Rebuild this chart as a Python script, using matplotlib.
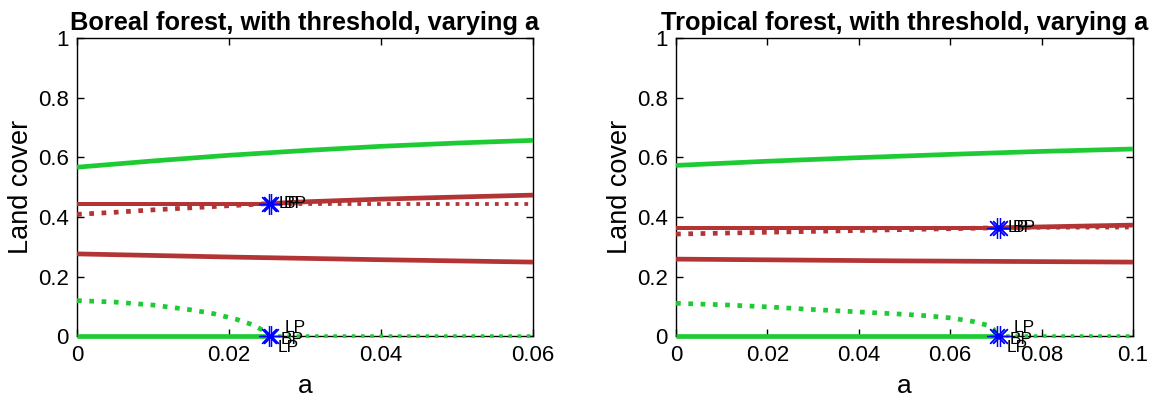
import matplotlib
matplotlib.use("Agg")
import matplotlib.pyplot as plt
import numpy as np

plt.rcParams['font.family'] = ['Liberation Sans', 'DejaVu Sans']

GREEN = '#1fcb35'
RED = '#b23434'
BLUE = '#0000ff'

# ---------------- Boreal data ----------------
bor_ab = 0.0252          # bifurcation parameter
bor_yb_hi = 0.445        # bifurcation level upper
bor_title = 'Boreal forest, with threshold, varying a'
bor_xlim = 0.06
bor_xticks = [0, 0.02, 0.04, 0.06]
bor_xticklabels = ['0', '0.02', '0.04', '0.06']

bor_green_hi_a = [0, 0.01, 0.02, 0.03, 0.04, 0.05, 0.06]
bor_green_hi_y = [0.567, 0.588, 0.607, 0.623, 0.637, 0.648, 0.657]

bor_redA_a = [0, 0.0252, 0.06]
bor_redA_y = [0.445, 0.445, 0.445]

bor_redB_a = [0, 0.005, 0.01, 0.015, 0.02, 0.0252, 0.03, 0.04, 0.05, 0.06]
bor_redB_y = [0.409, 0.416, 0.424, 0.431, 0.438, 0.445, 0.451, 0.460, 0.467, 0.4735]

bor_red_lo_a = [0, 0.02, 0.04, 0.06]
bor_red_lo_y = [0.2765, 0.266, 0.257, 0.249]

bor_green_mid_a = [0, 0.005, 0.01, 0.015, 0.018, 0.021, 0.023, 0.0245, 0.0252]
bor_green_mid_y = [0.120, 0.115, 0.105, 0.089, 0.076, 0.057, 0.040, 0.020, 0.0]

# ---------------- Tropical data ----------------
tro_ab = 0.0703
tro_yb_hi = 0.364
tro_title = 'Tropical forest, with threshold, varying a'
tro_xlim = 0.1
tro_xticks = [0, 0.02, 0.04, 0.06, 0.08, 0.1]
tro_xticklabels = ['0', '0.02', '0.04', '0.06', '0.08', '0.1']

tro_green_hi_a = [0, 0.02, 0.04, 0.06, 0.08, 0.1]
tro_green_hi_y = [0.573, 0.587, 0.599, 0.610, 0.620, 0.628]

tro_redA_a = [0, 0.0703, 0.1]
tro_redA_y = [0.364, 0.364, 0.365]

tro_redB_a = [0, 0.02, 0.04, 0.06, 0.0703, 0.08, 0.1]
tro_redB_y = [0.343, 0.349, 0.355, 0.361, 0.364, 0.367, 0.373]

tro_red_lo_a = [0, 0.05, 0.1]
tro_red_lo_y = [0.259, 0.253, 0.249]

tro_green_mid_a = [0, 0.01, 0.02, 0.03, 0.04, 0.05, 0.055, 0.06, 0.065, 0.068, 0.0695, 0.0703]
tro_green_mid_y = [0.111, 0.106, 0.099, 0.090, 0.082, 0.074, 0.069, 0.062, 0.050, 0.038, 0.024, 0.0]

ylabel = 'Land cover'
xlabel = 'a'
yticks = [0, 0.2, 0.4, 0.6, 0.8, 1]
yticklabels = ['0', '0.2', '0.4', '0.6', '0.8', '1']

fig = plt.figure(figsize=(11.62, 4.0), dpi=100)
ax1 = fig.add_axes([0.0663, 0.159, 0.3924, 0.746])
ax2 = fig.add_axes([0.5818, 0.159, 0.3932, 0.746])

LW = 3.4
DOT = (0, (1.0, 1.6))


def panel(ax, d):
    kw = dict(clip_on=False, zorder=3, solid_capstyle='butt', dash_capstyle='butt')
    ab = d['ab']
    xl = d['xlim']
    # upper green stable
    ax.plot(d['gh_a'], d['gh_y'], color=GREEN, lw=LW, **kw)
    # red branch A: stable before, unstable after
    aA = np.array(d['rA_a']); yA = np.array(d['rA_y'])
    m1 = aA <= ab; m2 = aA >= ab
    ax.plot(aA[m1], yA[m1], color=RED, lw=LW * 0.85, **kw)
    ax.plot(aA[m2], yA[m2], color=RED, lw=LW * 0.8, ls=DOT, **kw)
    # red branch B: unstable before, stable after
    aB = np.array(d['rB_a']); yB = np.array(d['rB_y'])
    m1 = aB <= ab; m2 = aB >= ab
    ax.plot(aB[m1], yB[m1], color=RED, lw=LW, ls=DOT, **kw)
    ax.plot(aB[m2], yB[m2], color=RED, lw=LW, **kw)
    # lower red stable
    ax.plot(d['rl_a'], d['rl_y'], color=RED, lw=LW, **kw)
    # green unstable middle
    ax.plot(d['gm_a'], d['gm_y'], color=GREEN, lw=LW, ls=DOT, **kw)
    # green zero branch
    ax.plot([0, ab], [0, 0], color=GREEN, lw=LW, **kw)
    ax.plot([ab, xl], [0, 0], color=GREEN, lw=LW * 0.75, ls=DOT, **kw)
    # stars
    for yb in (d['yb'], 0.0):
        for dx in (0.0, 0.00035):
            ax.plot([ab + dx * xl / 0.06], [yb], ls='none', marker=(8, 2, 0),
                    ms=15, mew=0.9, color=BLUE, clip_on=False, zorder=4)
    # labels
    s = 0.72
    for txt, dx, dy, va in (('LP', 10, 0, 'center'), ('BP', 15, 0, 'center')):
        ax.annotate(txt, (ab, d['yb']), xytext=(dx * s, dy * s), textcoords='offset points',
                    fontsize=12.5, va=va, ha='left', zorder=5, annotation_clip=False)
    for txt, dx, dy, va in (('LP', 16, 1, 'bottom'), ('BP', 12, -3, 'center'), ('LP', 9, -4, 'top')):
        ax.annotate(txt, (ab, 0.0), xytext=(dx * s, dy * s), textcoords='offset points',
                    fontsize=12.5, va=va, ha='left', zorder=5, annotation_clip=False)

    ax.set_xlim(0, xl)
    ax.set_ylim(0, 1)
    ax.set_xticks(d['xticks'])
    ax.set_xticklabels(d['xticklabels'])
    ax.set_yticks(yticks)
    ax.set_yticklabels(yticklabels)
    ax.tick_params(direction='in', length=5, width=1, top=True, right=True,
                   labelsize=16, pad=6)
    for sp in ax.spines.values():
        sp.set_linewidth(1.0)
        sp.set_zorder(2)
    ax.set_title(d['title'], fontsize=18.3, fontweight='bold', pad=6)
    ax.set_xlabel(xlabel, fontsize=19, labelpad=6)
    ax.set_ylabel(ylabel, fontsize=19.5, labelpad=3)


panel(ax1, dict(ab=bor_ab, yb=bor_yb_hi, xlim=bor_xlim, title=bor_title,
                xticks=bor_xticks, xticklabels=bor_xticklabels,
                gh_a=bor_green_hi_a, gh_y=bor_green_hi_y,
                rA_a=bor_redA_a, rA_y=bor_redA_y,
                rB_a=bor_redB_a, rB_y=bor_redB_y,
                rl_a=bor_red_lo_a, rl_y=bor_red_lo_y,
                gm_a=bor_green_mid_a, gm_y=bor_green_mid_y))
panel(ax2, dict(ab=tro_ab, yb=tro_yb_hi, xlim=tro_xlim, title=tro_title,
                xticks=tro_xticks, xticklabels=tro_xticklabels,
                gh_a=tro_green_hi_a, gh_y=tro_green_hi_y,
                rA_a=tro_redA_a, rA_y=tro_redA_y,
                rB_a=tro_redB_a, rB_y=tro_redB_y,
                rl_a=tro_red_lo_a, rl_y=tro_red_lo_y,
                gm_a=tro_green_mid_a, gm_y=tro_green_mid_y))

fig.savefig('out.png', dpi=100)
